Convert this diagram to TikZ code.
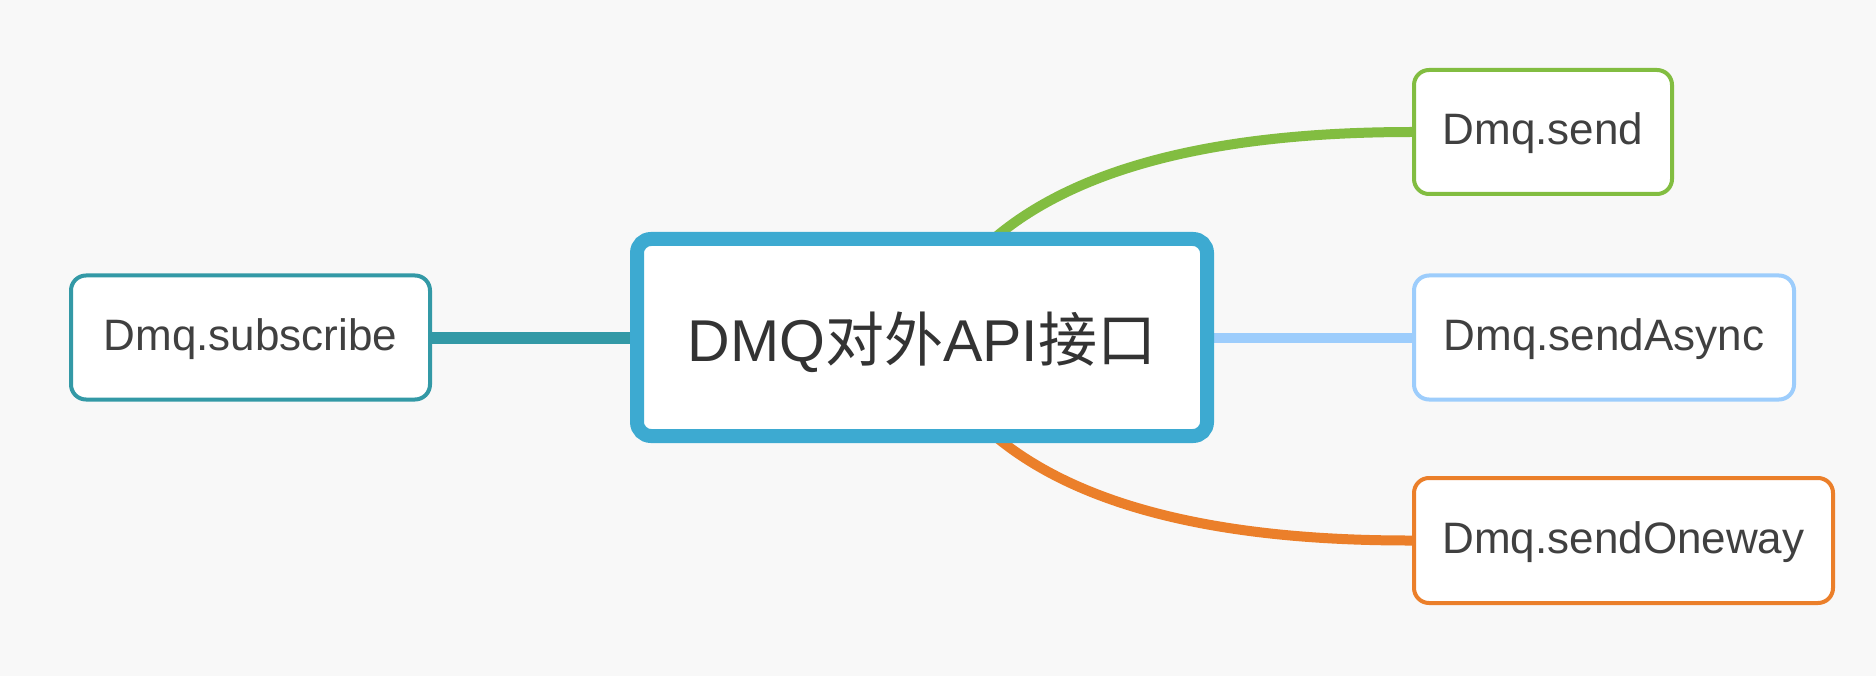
\documentclass[tikz,border=0pt]{standalone}
\usepackage{fontspec}
\setmainfont{Liberation Sans}
\newfontfamily\cjk{Noto Sans CJK SC}
\pgfdeclarelayer{bg}
\pgfdeclarelayer{lines}
\pgfsetlayers{bg,lines,main}
\definecolor{bgc}{HTML}{F8F8F8}
\definecolor{cblue}{HTML}{3DAAD1}
\definecolor{cteal}{HTML}{3399A6}
\definecolor{cgreen}{HTML}{82BD41}
\definecolor{clight}{HTML}{9DCDFC}
\definecolor{corange}{HTML}{EB7F2A}
\definecolor{txt}{HTML}{404040}
\tikzset{
  leaf/.style={draw=#1, line width=4pt, fill=white, rounded corners=15pt,
    minimum height=124pt, inner sep=0pt, text=txt,
    text height=31pt, text depth=6pt,
    font=\fontsize{44}{50}\selectfont},
  centre/.style={draw=cblue, line width=14pt, fill=white, rounded corners=14pt,
    minimum width=570pt, minimum height=197pt, inner sep=0pt, text=txt!80!black,
    text height=47pt, text depth=0pt,
    font=\fontsize{59}{66}\selectfont},
  conn/.style={draw=#1, line width=11pt}
}
\begin{document}
\begin{tikzpicture}[x=1pt,y=-1pt]
\begin{pgfonlayer}{bg}
\fill[bgc] (0,0) rectangle (1876,676);
\end{pgfonlayer}
\useasboundingbox (0,0) rectangle (1876,676);
\node[centre] (c) at (922,337.5) {DMQ{\cjk 对外}API{\cjk 接口}};
\node[leaf=cteal, minimum width=359pt] (sub) at (250.5,337.5) {Dmq.subscribe};
\node[leaf=cgreen, minimum width=258pt] (send) at (1543,132) {Dmq.send};
\node[leaf=clight, minimum width=380pt] (async) at (1604,337.5) {Dmq.sendAsync};
\node[leaf=corange, minimum width=419pt, minimum height=125pt] (oneway) at (1623.5,540.5) {Dmq.sendOneway};
\begin{pgfonlayer}{lines}
\draw[conn=cteal, line width=12pt] (sub.east) -- (c.west);
\draw[conn=clight, line width=10pt] (c.east) -- (async.west);
\draw[conn=cgreen, line width=10pt] (c.center) .. controls (978,200) and (1141,132) .. (send.west);
\draw[conn=corange, line width=10pt] (c.center) .. controls (978,473) and (1141,541) .. (oneway.west);
\end{pgfonlayer}
\end{tikzpicture}
\end{document}
